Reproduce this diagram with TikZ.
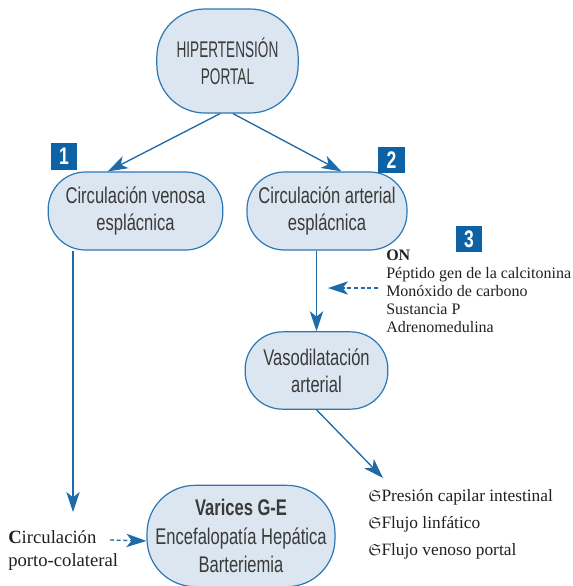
\documentclass[tikz,border=0pt]{standalone}
\usepackage{fontspec}
\usepackage{amssymb}
\setmainfont{Liberation Serif}
\newfontfamily\boxfont[FakeStretch=0.73]{Liberation Sans}
\newfontfamily\capfont[FakeStretch=0.6]{Liberation Sans}
\usetikzlibrary{arrows.meta}
\definecolor{boxfill}{HTML}{DCE6F1}
\definecolor{boxline}{HTML}{2B78B5}
\definecolor{arrowblue}{HTML}{1F6AA8}
\definecolor{tagblue}{HTML}{0D62A6}
\definecolor{boxtext}{HTML}{3A3A3A}
\definecolor{plaintext}{HTML}{231F20}
\newcommand{\upmark}{{\large$\mathfrak{S}$}}

\begin{document}
\begin{tikzpicture}[x=0.75pt, y=-0.75pt, >={Stealth[length=15pt, width=10pt, inset=4pt]},
  blob/.style={draw=boxline, line width=0.9pt, fill=boxfill, rounded corners=28pt,
    align=center, text=boxtext, inner sep=0pt,
    font=\boxfont\fontsize{17}{20.5}\selectfont},
  tag/.style={fill=tagblue, text=white, minimum size=20pt, inner sep=0pt,
    font=\boxfont\bfseries\fontsize{18}{18}\selectfont},
  list/.style={anchor=north west, inner sep=0pt, align=left, text=plaintext},
  arr/.style={->, draw=arrowblue, line width=1pt},
  dasharr/.style={arr, dash pattern=on 3pt off 2pt}]
  \useasboundingbox (0,0) rectangle (573,586);

  \node[blob, rounded corners=36pt, minimum width=106pt, minimum height=78pt,
    font=\capfont\fontsize{17}{20.5}\selectfont] (ht) at (227.5,61) {HIPERTENSIÓN\\PORTAL};
  \node[blob, minimum width=131pt, minimum height=58.5pt] (venosa) at (135.5,211) {Circulación venosa\\esplácnica};
  \node[blob, minimum width=120pt, minimum height=58.5pt] (arterial) at (327,211) {Circulación arterial\\esplácnica};
  \node[blob, minimum width=107pt, minimum height=58pt] (vaso) at (316.5,370.5) {Vasodilatación\\arterial};
  \node[blob, rounded corners=36pt, minimum width=141pt, minimum height=76pt,
    font=\boxfont\fontsize{17}{21.5}\selectfont] (varices) at (241,536) {\textbf{Varices G-E}\\Encefalopatía Hepática\\Barteriemia};

  \node[tag] (t1) at (64,156.5) {1};
  \node[tag] (t2) at (391.5,160) {2};
  \node[tag] (t3) at (469,239) {3};

  \node[list, font=\fontsize{12}{13.5}\selectfont] (onlist) at (386,250)
    {\textbf{ON}\\Péptido gen de la calcitonina\\Monóxido de carbono\\Sustancia P\\Adrenomedulina};
  \node[list, font=\fontsize{13}{20.5}\selectfont] (efectos) at (368,489)
    {\upmark Presión capilar intestinal\\\upmark Flujo linfático\\\upmark Flujo venoso portal};
  \node[list, font=\fontsize{14}{17.25}\selectfont] (porto) at (8,530) {\textbf{C}irculación\\porto-colateral};

  \coordinate (vtip) at (73,512);
  \coordinate (ontip) at (328,288);
  \coordinate (eftip) at (383,478);
  \coordinate (pcstart) at (110,540);

  \draw[arr] (ht.-98) -- (venosa.125);
  \draw[arr] (ht.-84) -- (arterial.70);
  \draw[arr] (venosa.south -| vtip) -- (vtip);
  \draw[arr] (arterial.south -| vaso.north) -- (vaso.north);
  \draw[dasharr, shorten <=6pt] (onlist.west |- ontip) -- (ontip);
  \draw[arr] (vaso.south) -- (eftip);
  \draw[dasharr] (pcstart) -- (varices.183);
\end{tikzpicture}
\end{document}
